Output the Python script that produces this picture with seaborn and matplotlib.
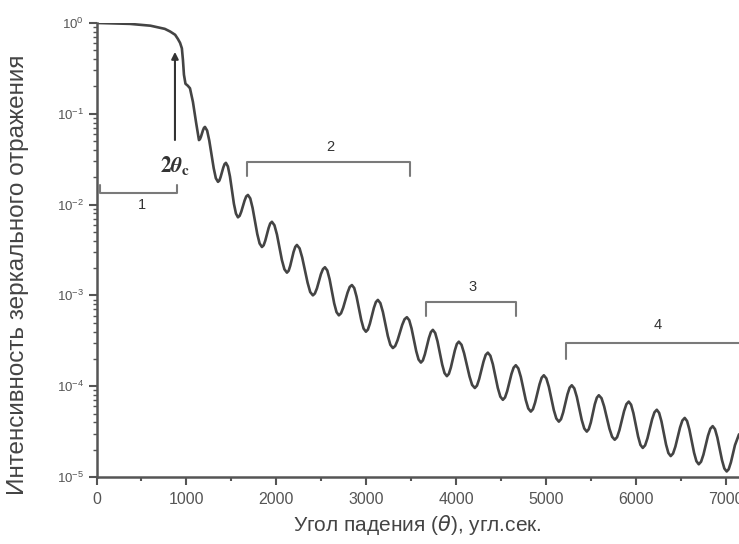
import pandas as pd
import matplotlib
matplotlib.use('Agg')
import matplotlib.pyplot as plt
import seaborn as sns

# Reflectivity curve (angle in arcsec, intensity)
angle = [0, 370, 600, 760, 820, 875, 905, 930, 950, 962, 973, 990, 1015, 1040,
         1073, 1107, 1140, 1151, 1162, 1185, 1196, 1207, 1231, 1255, 1304, 1328,
         1352, 1367, 1381, 1411, 1425, 1440, 1462, 1485, 1529, 1552,
         1574, 1593, 1611, 1648, 1666, 1685, 1711, 1737, 1789, 1815,
         1841, 1860, 1878, 1915, 1933, 1952, 1980, 2008, 2063, 2091,
         2119, 2138, 2156, 2193, 2212, 2230, 2260, 2289, 2349, 2378,
         2408, 2430, 2453, 2497, 2520, 2542, 2568, 2594, 2645, 2671,
         2697, 2721, 2745, 2794, 2818, 2842, 2868, 2894, 2946, 2972,
         2998, 3020, 3042, 3087, 3109, 3131, 3159, 3187, 3242, 3270,
         3298, 3324, 3350, 3402, 3428, 3454, 3480, 3506, 3558, 3584,
         3610, 3632, 3654, 3699, 3721, 3743, 3769, 3795, 3847, 3873,
         3899, 3921, 3943, 3988, 4010, 4032, 4062, 4091, 4151, 4180,
         4210, 4234, 4258, 4307, 4331, 4355, 4383, 4411, 4466, 4494,
         4522, 4546, 4570, 4618, 4642, 4666, 4694, 4722, 4777, 4805,
         4833, 4857, 4881, 4930, 4954, 4978, 5006, 5034, 5089, 5117,
         5145, 5169, 5193, 5241, 5265, 5289, 5317, 5345, 5400, 5428,
         5456, 5478, 5501, 5545, 5568, 5590, 5620, 5649, 5708, 5738,
         5767, 5793, 5819, 5871, 5897, 5923, 5949, 5975, 6027, 6053,
         6079, 6105, 6131, 6183, 6209, 6235, 6261, 6287, 6338, 6364,
         6390, 6416, 6442, 6494, 6520, 6546, 6572, 6598, 6650, 6676,
         6702, 6728, 6754, 6805, 6831, 6857, 6883, 6909, 6961, 6987,
         7013, 7035, 7060, 7105, 7150]
intensity = [1.0, 0.977, 0.933, 0.861, 0.804, 0.741, 0.668, 0.603, 0.525, 0.389,
             0.269, 0.214, 0.204, 0.191, 0.135, 0.0813, 0.0513, 0.0525, 0.0557,
             0.0659, 0.0700, 0.0716, 0.0653, 0.0506, 0.0252, 0.01951, 0.0178,
             0.01837, 0.0201, 0.0256, 0.0279, 0.0288, 0.0263, 0.0204, 0.0102,
             7.95e-3,
             7.24e-3, 7.52e-3, 8.35e-3, 1.108e-2, 1.229e-2, 1.276e-2, 1.169e-2,
             9.18e-3, 4.74e-3, 3.73e-3,
             3.41e-3, 3.56e-3, 4.00e-3, 5.51e-3, 6.19e-3, 6.46e-3, 5.92e-3,
             4.68e-3, 2.45e-3, 1.94e-3,
             1.78e-3, 1.864e-3, 2.12e-3, 3.01e-3, 3.42e-3, 3.59e-3, 3.29e-3,
             2.61e-3, 1.38e-3, 1.089e-3,
             1.00e-3, 1.049e-3, 1.195e-3, 1.71e-3, 1.946e-3, 2.04e-3, 1.882e-3,
             1.505e-3, 8.17e-4, 6.54e-4,
             6.03e-4, 6.35e-4, 7.31e-4, 1.074e-3, 1.238e-3, 1.30e-3, 1.204e-3,
             9.68e-4, 5.36e-4, 4.31e-4,
             3.98e-4, 4.20e-4, 4.87e-4, 7.29e-4, 8.44e-4, 8.91e-4, 8.21e-4,
             6.57e-4, 3.57e-4, 2.855e-4,
             2.63e-4, 2.77e-4, 3.20e-4, 4.73e-4, 5.46e-4, 5.75e-4, 5.33e-4,
             4.32e-4, 2.43e-4, 1.966e-4,
             1.82e-4, 1.923e-4, 2.24e-4, 3.39e-4, 3.94e-4, 4.17e-4, 3.85e-4,
             3.11e-4, 1.73e-4, 1.394e-4,
             1.29e-4, 1.366e-4, 1.60e-4, 2.48e-4, 2.915e-4, 3.09e-4, 2.856e-4,
             2.30e-4, 1.28e-4, 1.033e-4,
             9.55e-5, 1.014e-4, 1.195e-4, 1.87e-4, 2.21e-4, 2.34e-4, 2.164e-4,
             1.74e-4, 9.55e-5, 7.67e-5,
             7.08e-5, 7.51e-5, 8.81e-5, 1.365e-4, 1.601e-4, 1.70e-4, 1.570e-4,
             1.266e-4, 7.04e-5, 5.68e-5,
             5.25e-5, 5.58e-5, 6.61e-5, 1.047e-4, 1.239e-4, 1.318e-4, 1.218e-4,
             9.83e-5, 5.46e-5, 4.41e-5,
             4.07e-5, 4.33e-5, 5.13e-5, 8.13e-5, 9.62e-5, 1.023e-4, 9.46e-5,
             7.63e-5, 4.24e-5, 3.42e-5,
             3.16e-5, 3.36e-5, 3.98e-5, 6.31e-5, 7.47e-5, 7.94e-5, 7.37e-5,
             5.99e-5, 3.41e-5, 2.77e-5,
             2.57e-5, 2.74e-5, 3.27e-5, 5.31e-5, 6.34e-5, 6.76e-5, 6.25e-5,
             5.04e-5, 2.80e-5, 2.26e-5,
             2.09e-5, 2.23e-5, 2.66e-5, 4.32e-5, 5.15e-5, 5.50e-5, 5.08e-5,
             4.10e-5, 2.28e-5, 1.837e-5,
             1.70e-5, 1.812e-5, 2.16e-5, 3.51e-5, 4.19e-5, 4.47e-5, 4.13e-5,
             3.33e-5, 1.85e-5, 1.494e-5,
             1.38e-5, 1.473e-5, 1.76e-5, 2.85e-5, 3.40e-5, 3.63e-5, 3.36e-5,
             2.72e-5, 1.53e-5, 1.240e-5,
             1.15e-5, 1.216e-5, 1.45e-5, 2.24e-5, 2.95e-5]

# region brackets: label, x start, x end, y of bar, y of end ticks, label pos
region_labels = ['1', '2', '3', '4']
region_x0 = [40, 1676, 3665, 5222]
region_x1 = [895, 3487, 4666, 7400]
region_bar = [0.0134, 0.0294, 8.46e-4, 2.99e-4]
region_tick = [0.0164, 0.0207, 5.93e-4, 2.0e-4]
region_text_x = [510, 2600, 4180, 6240]
region_text_y = [0.0100, 0.043, 1.24e-3, 4.72e-4]

# critical angle arrow
crit_x = 873
crit_from, crit_to = 0.0514, 0.48

df = pd.DataFrame({'angle': angle, 'intensity': intensity})

sns.set_style('ticks')
plt.rcParams['font.family'] = ['Liberation Sans', 'DejaVu Sans']
plt.rcParams['mathtext.fontset'] = 'dejavusans'

fig = plt.figure(figsize=(7.39, 5.44), dpi=100)
ax = fig.add_axes([0.1306, 0.1232, 0.8694, 0.8346])

sns.lineplot(data=df, x='angle', y='intensity', ax=ax, color='#444444',
             linewidth=1.9)
ax.lines[0].set_solid_joinstyle('round')
ax.set_yscale('log')
ax.set_xlim(0, 7150)
ax.set_ylim(1e-5, 1)

for lab, x0, x1, yb, yt, tx, ty in zip(region_labels, region_x0, region_x1,
                                       region_bar, region_tick,
                                       region_text_x, region_text_y):
    ax.plot([x0, x0, x1, x1], [yt, yb, yb, yt], color='#7a7a7a', lw=1.5,
            solid_joinstyle='round')
    ax.text(tx, ty, lab, ha='center', va='center', fontsize=10.5,
            color='#333333')

ax.annotate('', xy=(crit_x, crit_to), xytext=(crit_x, crit_from),
            arrowprops=dict(arrowstyle='-|>', color='#333333', lw=1.5,
                            mutation_scale=10, shrinkA=0, shrinkB=0))
ax.text(crit_x, 0.027, r'$\mathbf{2}\boldsymbol{\theta}_{\mathbf{c}}$',
        ha='center', va='center', fontsize=15.5, color='#333333',
        math_fontfamily='stix')

ax.set_xticks(range(0, 8000, 1000))
ax.set_xticks(range(500, 7500, 1000), minor=True)
ax.tick_params(axis='both', which='major', direction='out', length=6,
               width=1.5, color='#555555', labelcolor='#555555')
ax.tick_params(axis='x', which='minor', direction='out', length=3,
               width=1.5, color='#555555')
ax.tick_params(axis='y', which='minor', direction='out', length=3,
               width=1.0, color='#555555')
ax.tick_params(axis='x', labelsize=11.5, pad=5)
ax.tick_params(axis='y', labelsize=9.5, pad=3)

for s in ['top', 'right']:
    ax.spines[s].set_visible(False)
for s in ['left', 'bottom']:
    ax.spines[s].set_color('#555555')
    ax.spines[s].set_linewidth(1.8)

ax.set_xlabel(r'Угол падения ($\theta$), угл.сек.', fontsize=15,
              color='#444444')
ax.set_ylabel('Интенсивность зеркального отражения', fontsize=17.5,
              color='#444444')
ax.xaxis.set_label_coords(0.5, -0.08)
ax.yaxis.set_label_coords(-0.105, 0.445)

fig.savefig('out.png', dpi=100)
